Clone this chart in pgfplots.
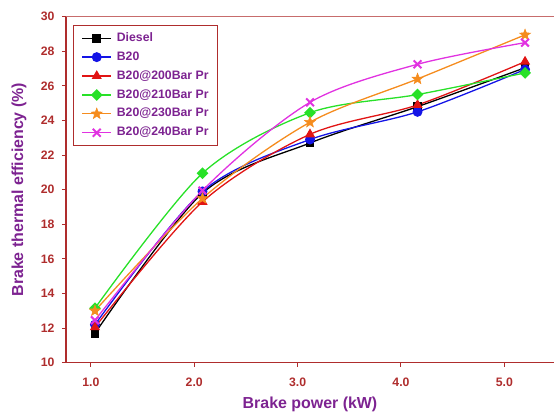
\documentclass[border=0pt]{standalone}
\usepackage{fontspec}
\setmainfont{Liberation Sans}
\usepackage{pgfplots}
\pgfplotsset{compat=1.18}
\usetikzlibrary{calc}
\definecolor{axred}{RGB}{175,45,45}
\definecolor{lblpurple}{RGB}{125,35,145}
\definecolor{cdiesel}{RGB}{0,0,0}
\definecolor{cb20}{RGB}{20,20,230}
\definecolor{c200}{RGB}{225,20,20}
\definecolor{c210}{RGB}{40,225,40}
\definecolor{c230}{RGB}{245,140,30}
\definecolor{c240}{RGB}{225,50,225}
% filled five-pointed star
\pgfdeclareplotmark{fstar}{%
  \pgfpathmoveto{\pgfpointpolar{90}{\pgfplotmarksize}}%
  \pgfpathlineto{\pgfpointpolar{126}{0.42\pgfplotmarksize}}%
  \pgfpathlineto{\pgfpointpolar{162}{\pgfplotmarksize}}%
  \pgfpathlineto{\pgfpointpolar{198}{0.42\pgfplotmarksize}}%
  \pgfpathlineto{\pgfpointpolar{234}{\pgfplotmarksize}}%
  \pgfpathlineto{\pgfpointpolar{270}{0.42\pgfplotmarksize}}%
  \pgfpathlineto{\pgfpointpolar{306}{\pgfplotmarksize}}%
  \pgfpathlineto{\pgfpointpolar{342}{0.42\pgfplotmarksize}}%
  \pgfpathlineto{\pgfpointpolar{18}{\pgfplotmarksize}}%
  \pgfpathlineto{\pgfpointpolar{54}{0.42\pgfplotmarksize}}%
  \pgfpathclose
  \pgfusepathqfillstroke}
\begin{document}
\begin{tikzpicture}
\begin{axis}[name=ax,
  scale only axis, width=488bp, height=346bp,
  xmin=0.76, xmax=5.48, ymin=10, ymax=30,
  axis x line*=bottom, axis y line*=left,
  axis line style={axred, line width=1.2bp, -},
  xtick={1,2,3,4,5}, ytick={10,12,...,30},
  xticklabel style={yshift=-8bp, /pgf/number format/fixed, /pgf/number format/fixed zerofill, /pgf/number format/precision=1},
  tick style={axred, line width=1bp},
  tick align=outside, major tick length=4bp,
  ticklabel style={font=\fontsize{12.3}{14}\selectfont\bfseries, text=axred},
  yticklabel style={xshift=-4bp},
  /pgf/number format/assume math mode=true,
  xlabel={Brake power (kW)}, ylabel={Brake thermal efficiency (\%)},
  label style={font=\fontsize{16}{18}\selectfont\bfseries, text=lblpurple},
  xlabel style={at={(axis description cs:0.5,0)}, anchor=center, yshift=-41.5bp},
  ylabel style={at={(axis description cs:0,0.5)}, anchor=center, yshift=47bp},
  legend style={at={(rel axis cs:0,1)}, anchor=north west, xshift=7bp, yshift=-8.3bp,
    draw=axred, line width=1.2bp, font=\fontsize{12.3}{14}\selectfont\bfseries,
    text=lblpurple, row sep=5.6bp, column sep=4bp, inner xsep=8bp, inner ysep=6bp,
    nodes={inner sep=1bp, text height=8.8bp, text depth=2.5bp}},
  legend cell align=left,
  legend image code/.code={\draw[mark repeat=2,mark phase=2] plot coordinates {(0bp,0bp) (14.5bp,0bp) (29bp,0bp)};},
  every axis plot/.append style={line width=1.3bp, smooth},
]
\addplot[cdiesel, mark=square*, mark size=3.7bp] coordinates {(1.04,11.7)(2.08,19.8)(3.12,22.7)(4.16,24.8)(5.2,27.05)};
\addlegendentry{Diesel}
\addplot[cb20, mark=*, mark size=4.3bp] coordinates {(1.04,12.2)(2.08,19.9)(3.12,22.9)(4.16,24.5)(5.2,26.95)};
\addlegendentry{B20}
\addplot[c200, mark=triangle*, mark size=4.6bp] coordinates {(1.04,12.05)(2.08,19.3)(3.12,23.2)(4.16,24.9)(5.2,27.4)};
\addlegendentry{B20@200Bar Pr}
\addplot[c210, mark=square*, mark size=3.5bp, mark options={rotate=45}] coordinates {(1.04,13.15)(2.08,20.95)(3.12,24.45)(4.16,25.5)(5.2,26.75)};
\addlegendentry{B20@210Bar Pr}
\addplot[c230, mark=fstar, mark size=5.8bp, mark options={line width=0.5bp}] coordinates {(1.04,13.0)(2.08,19.5)(3.12,23.9)(4.16,26.4)(5.2,28.95)};
\addlegendentry{B20@230Bar Pr}
\addplot[c240, mark=x, mark size=5.5bp, mark options={line width=2bp}] coordinates {(1.04,12.45)(2.08,19.95)(3.12,25.05)(4.16,27.25)(5.2,28.5)};
\addlegendentry{B20@240Bar Pr}
\draw[axred!70, line width=0.6bp] (rel axis cs:0,1) -- (rel axis cs:1,1);
\end{axis}
\pgfresetboundingbox
\path ($(ax.south west)+(-66bp,-50bp)$) rectangle ($(ax.north east)+(0bp,16.7bp)$);
\end{tikzpicture}
\end{document}
